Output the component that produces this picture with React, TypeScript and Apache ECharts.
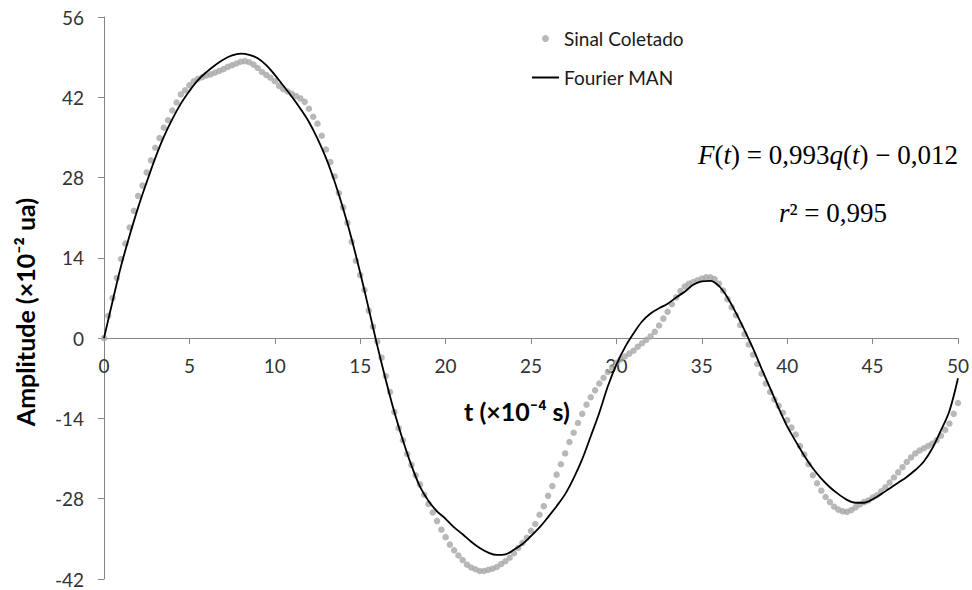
import React, { useEffect, useRef } from "react";
import * as echarts from "echarts";

// Sample spacing (×10^-4 s) of the collected signal and of the Fourier curve
const signalStep = 0.25;
const fourierStep = 0.5;

// "Sinal Coletado" values (×10^-2 ua), t = 0, 0.25, ..., 50
const signalValues = [
  0.0, 3.9, 7.0, 10.5,
  13.8, 16.5, 19.3, 22.2,
  24.8, 26.6, 28.9, 31.0,
  33.2, 34.9, 36.7, 38.0,
  39.7, 41.1, 42.5, 43.2,
  44.1, 44.8, 45.2, 45.5,
  45.8, 46.0, 46.3, 46.6,
  46.9, 47.3, 47.6, 47.9,
  48.2, 48.3, 48.1, 47.7,
  47.1, 46.4, 45.9, 45.4,
  44.8, 44.0, 43.4, 43.0,
  42.6, 42.2, 41.8, 41.2,
  40.0, 38.6, 37.4, 35.3,
  32.9, 30.7, 28.2, 25.3,
  22.8, 20.1, 16.8, 13.5,
  11.0, 8.4, 4.8, 2.0,
  -0.6, -3.4, -6.6, -9.4,
  -12.9, -15.7, -17.8, -20.2,
  -22.1, -23.9, -25.5, -27.3,
  -28.9, -30.4, -31.9, -33.4,
  -34.7, -36.0, -37.0, -37.9,
  -38.7, -39.5, -40.0, -40.3,
  -40.6, -40.6, -40.4, -40.2,
  -39.9, -39.4, -38.9, -38.3,
  -37.5, -36.6, -35.7, -34.8,
  -33.6, -32.4, -30.8, -29.3,
  -27.5, -25.8, -23.8, -22.0,
  -20.1, -18.1, -16.5, -14.8,
  -13.2, -11.6, -10.3, -9.1,
  -7.9, -6.9, -5.9, -5.1,
  -4.3, -3.7, -3.2, -2.7,
  -2.2, -1.5, -0.9, -0.3,
  0.3, 1.1, 2.2, 3.4,
  4.6, 5.9, 7.1, 8.2,
  9.0, 9.5, 9.8, 10.1,
  10.4, 10.6, 10.6, 10.3,
  9.5, 8.3, 6.8, 5.4,
  4.0, 2.3, 0.7, -1.1,
  -2.9, -4.5, -6.2, -7.9,
  -9.4, -10.7, -11.8, -13.0,
  -14.3, -15.6, -16.8, -18.8,
  -20.3, -22.0, -23.9, -25.3,
  -26.6, -27.7, -28.6, -29.4,
  -29.9, -30.2, -30.3, -30.0,
  -29.5, -29.0, -28.6, -28.3,
  -27.8, -27.4, -26.7, -26.0,
  -25.2, -24.3, -23.4, -22.5,
  -21.6, -20.8, -20.1, -19.6,
  -19.2, -18.8, -18.4, -17.8,
  -17.0, -16.0, -14.9, -13.2,
  -11.3,
];

// "Fourier MAN" values (×10^-2 ua), t = 0, 0.5, ..., 50
const fourierValues = [
  0.0, 6.4, 12.6, 17.9, 22.8, 27.2, 31.4, 35.1, 38.2, 40.9,
  43.1, 45.0, 46.4, 47.6, 48.6, 49.3, 49.6, 49.4, 48.8, 47.6,
  45.9, 44.0, 42.1, 40.0, 37.7, 34.8, 31.4, 27.3, 22.6, 17.3,
  11.4, 5.1, -1.3, -7.3, -12.9, -17.8, -22.2, -25.9, -28.4, -30.2,
  -31.5, -33.0, -34.2, -35.5, -36.6, -37.4, -37.8, -37.7, -36.9, -35.9,
  -34.5, -33.0, -31.2, -29.3, -27.2, -24.4, -21.1, -17.1, -13.0, -8.4,
  -4.6, -1.6, 0.8, 2.9, 4.3, 5.2, 6.0, 7.1, 8.1, 9.3,
  9.9, 10.0, 9.1, 7.1, 4.4, 1.4, -1.8, -5.3, -8.7, -12.2,
  -15.4, -18.0, -20.5, -22.7, -24.5, -26.0, -27.2, -28.2, -28.7, -28.7,
  -28.1, -27.2, -26.2, -25.2, -24.2, -23.0, -21.5, -19.2, -16.1, -12.7,
  -7.0,
];

const xMin = 0;
const xMax = 50;
const xInterval = 5;
const yMin = -42;
const yMax = 56;
const yInterval = 14;

const seriesNames = ["Sinal Coletado", "Fourier MAN"];
const xTitle = "t (×10⁻⁴ s)";
const yTitle = "Amplitude (×10⁻² ua)";
const fitEquation = "{i|F}{n|(}{i|t}{n|) = 0,993}{i|q}{n|(}{i|t}{n|) − 0,012}";
const r2Equation = "{i|r}{n|² = 0,995}";

export default function App() {
  const ref = useRef<HTMLDivElement>(null);

  useEffect(() => {
    if (!ref.current) return;
    const chart = echarts.init(ref.current, null, { renderer: "svg" });
    const signalData = signalValues.map((v, i) => [i * signalStep, v]);
    const fourierData = fourierValues.map((v, i) => [i * fourierStep, v]);
    const axisColor = "#868686";
    const labelFont = "Lato";
    const gridTop = 17;
    const gridBottom = 11;
    const plotHeight = 590 - gridTop - gridBottom;
    // move the x axis up so that it crosses the y axis at 0
    const zeroOffset = -plotHeight * (0 - yMin) / (yMax - yMin);
    const eqRich = {
      i: { fontFamily: "Liberation Serif", fontStyle: "italic", fontSize: 27, color: "#000" },
      n: { fontFamily: "Liberation Serif", fontSize: 27, color: "#000" },
    };

    chart.setOption({
      animation: false,
      backgroundColor: "#ffffff",
      grid: { left: 104, right: 12, top: gridTop, bottom: gridBottom, containLabel: false },
      xAxis: {
        type: "value",
        min: xMin,
        max: xMax,
        interval: xInterval,
        position: "bottom",
        offset: zeroOffset,
        axisLine: { show: true, onZero: false, lineStyle: { color: axisColor, width: 1 } },
        axisTick: { show: true, inside: false, length: 6, lineStyle: { color: axisColor } },
        axisLabel: { margin: 18, fontFamily: labelFont, fontSize: 19, color: "#333" },
        splitLine: { show: false },
      },
      yAxis: {
        type: "value",
        min: yMin,
        max: yMax,
        interval: yInterval,
        axisLine: { show: true, onZero: false, lineStyle: { color: axisColor, width: 1 } },
        axisTick: { show: true, inside: false, length: 6, lineStyle: { color: axisColor } },
        axisLabel: { margin: 20, fontFamily: labelFont, fontSize: 19, color: "#333" },
        splitLine: { show: false },
      },
      legend: {
        orient: "vertical",
        left: 532,
        top: 29,
        padding: 0,
        itemWidth: 27,
        itemHeight: 7,
        itemGap: 20,
        textStyle: { fontFamily: labelFont, fontSize: 19, color: "#1a1a1a" },
        data: [
          { name: seriesNames[0], icon: "circle" },
          { name: seriesNames[1], icon: "path://M0 0H27V2H0Z" },
        ],
      },
      series: [
        {
          name: seriesNames[0],
          type: "scatter",
          data: signalData,
          symbol: "circle",
          symbolSize: 6.5,
          itemStyle: { color: "#A6A6A6" },
          z: 2,
        },
        {
          name: seriesNames[1],
          type: "line",
          data: fourierData,
          symbol: "none",
          smooth: 0.35,
          lineStyle: { color: "#000000", width: 1.8 },
          itemStyle: { color: "#000000" },
          z: 3,
        },
      ],
      graphic: [
        {
          type: "text",
          x: 25,
          y: 312,
          rotation: Math.PI / 2,
          style: {
            text: yTitle,
            fontFamily: labelFont,
            fontWeight: "bold",
            fontSize: 25,
            fill: "#000",
            align: "center",
            verticalAlign: "middle",
          },
        },
        {
          type: "text",
          x: 517,
          y: 411,
          style: {
            text: xTitle,
            fontFamily: labelFont,
            fontWeight: "bold",
            fontSize: 25,
            fill: "#000",
            align: "center",
            verticalAlign: "middle",
          },
        },
        {
          type: "text",
          x: 958,
          y: 155,
          style: { text: fitEquation, rich: eqRich, align: "right", verticalAlign: "middle" },
        },
        {
          type: "text",
          x: 833,
          y: 213,
          style: { text: r2Equation, rich: eqRich, align: "center", verticalAlign: "middle" },
        },
      ],
    });

    return () => chart.dispose();
  }, []);

  return (
    <div
      ref={ref}
      style={{ position: "fixed", left: 0, top: 0, width: 972, height: 590, background: "#fff" }}
    />
  );
}
